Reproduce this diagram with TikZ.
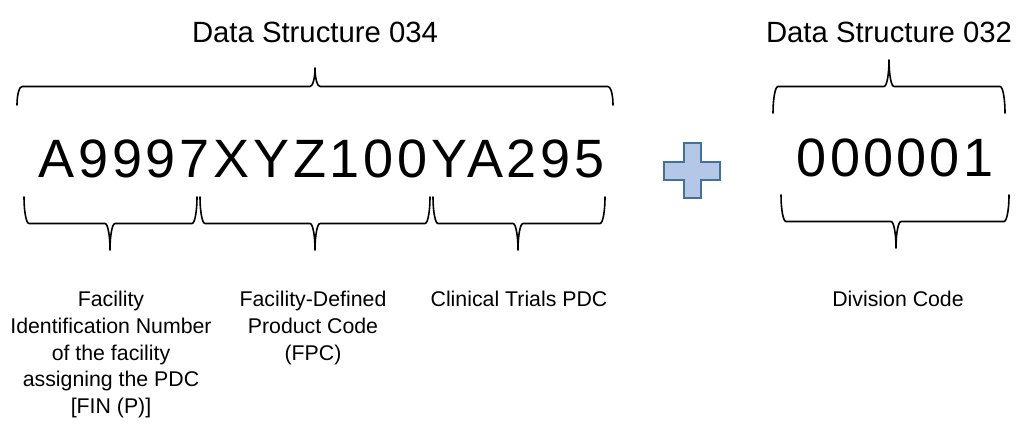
\documentclass[tikz,border=0pt]{standalone}
\usepackage{fontspec}
\setmainfont{Liberation Sans}
\newfontfamily\codefont[LetterSpace=7]{Liberation Sans}
\newfontfamily\divfont[LetterSpace=6]{Liberation Sans}
\definecolor{plusfill}{HTML}{B4C7E7}
\definecolor{plusline}{HTML}{41719C}
\newcommand{\hbr}[6]{% x0, x1, xt, yEnd, yTip, rx
  \pgfmathsetmacro\bM{(#4+#5)/2}%
  \pgfmathsetmacro\bEc{#4+0.5523*(\bM-#4)}%
  \pgfmathsetmacro\bTc{#5+0.5523*(\bM-#5)}%
  \pgfmathsetmacro\xa{#1+#6}%
  \pgfmathsetmacro\xac{#1+#6-0.5523*#6}%
  \pgfmathsetmacro\xb{#3-#6}%
  \pgfmathsetmacro\xbc{#3-#6+0.5523*#6}%
  \pgfmathsetmacro\xc{#3+#6}%
  \pgfmathsetmacro\xcc{#3+#6-0.5523*#6}%
  \pgfmathsetmacro\xd{#2-#6}%
  \pgfmathsetmacro\xdc{#2-#6+0.5523*#6}%
  \draw[bracestyle] (#1,#4) .. controls (#1,\bEc) and (\xac,\bM) .. (\xa,\bM)
    -- (\xb,\bM) .. controls (\xbc,\bM) and (#3,\bTc) .. (#3,#5)
    .. controls (#3,\bTc) and (\xcc,\bM) .. (\xc,\bM)
    -- (\xd,\bM) .. controls (\xdc,\bM) and (#2,\bEc) .. (#2,#4);%
}
\begin{document}
\begin{tikzpicture}[x=1pt,y=-1pt,
  bracestyle/.style={line width=1.6pt, line join=round, line cap=round, draw=black},
  titletext/.style={font=\fontsize{29.3}{35}\selectfont, inner sep=0pt, anchor=base},
  codetext/.style={font=\fontsize{54}{60}\selectfont, inner sep=0pt, anchor=base},
  labeltext/.style={font=\fontsize{21.3}{26.7}\selectfont, align=center, inner sep=0pt, anchor=north}]
\useasboundingbox (0,0) rectangle (1016,423);

% titles
\node[titletext] (t034) at (315,42) {Data Structure 034};
\node[titletext] (t032) at (889,42) {Data Structure 032};

% codes
\node[codetext] (code034) at (321.5,177) {\codefont A9997XYZ100YA295};
\node[codetext] (code032) at (895,176) {\divfont 000001};

% braces
\hbr{17}{613}{315}{105}{68}{5}
\hbr{773}{1005}{889}{113}{60}{5}
\hbr{24}{197}{110}{197}{250}{5}
\hbr{200}{430}{315}{197}{250}{5}
\hbr{433}{605}{518}{197}{250}{5}
\hbr{781}{1009}{896}{195}{248}{5}

% plus sign
\draw[line width=2pt, draw=plusline, fill=plusfill, line join=miter]
  (684,143) -- (701,143) -- (701,162) -- (720,162) -- (720,180) -- (701,180)
  -- (701,198) -- (684,198) -- (684,180) -- (664,180) -- (664,162) -- (684,162) -- cycle;

% labels
\node[labeltext] (lab1) at (111,291) {Facility\\Identification Number\\of the facility\\assigning the PDC\\{[FIN (P)]}};
\node[labeltext] (lab2) at (313,291) {Facility-Defined\\Product Code\\(FPC)};
\node[labeltext] (lab3) at (519,291) {Clinical Trials PDC};
\node[labeltext] (lab4) at (898,291) {Division Code};
\end{tikzpicture}
\end{document}
